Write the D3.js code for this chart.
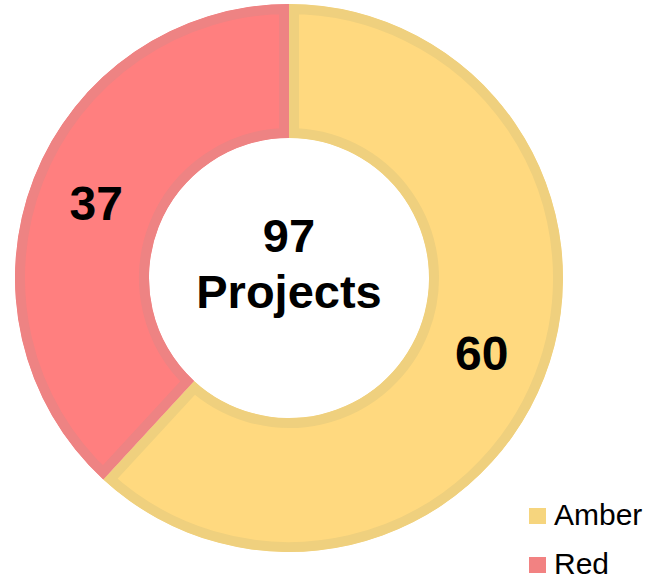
<!DOCTYPE html>
<html>
<head>
<meta charset="utf-8">
<script src="https://cdn.jsdelivr.net/npm/d3@7/dist/d3.min.js"></script>
<style>
  body { margin: 0; background: #fff; }
  text { font-family: "Liberation Sans", Arial, sans-serif; }
</style>
</head>
<body>
<div id="chart"></div>
<script>
const categories = ["Amber", "Red"];
const values = [60, 37];
const fills = ["#FFD97F", "#FF7F7F"];
const strokes = ["#EFD07E", "#EE8383"];
const centerLines = ["97", "Projects"];

const width = 646, height = 580;
const cx = 289, cy = 278;
const outerR = 274, innerR = 140;

const svg = d3.select("#chart").append("svg")
    .attr("width", width)
    .attr("height", height);

const pie = d3.pie().sort(null).value(d => d.value);
const arc = d3.arc().innerRadius(innerR).outerRadius(outerR);

const data = categories.map((c, i) => ({ name: c, value: values[i], i: i }));
const arcs = pie(data);

const g = svg.append("g").attr("transform", `translate(${cx},${cy})`);

const defs = svg.append("defs");
arcs.forEach((d, i) => {
    defs.append("clipPath").attr("id", "clip" + i)
        .append("path").attr("d", arc(d));
});

g.selectAll("path.slice")
    .data(arcs)
    .enter().append("path")
    .attr("class", "slice")
    .attr("d", arc)
    .attr("fill", d => fills[d.data.i])
    .attr("stroke", d => strokes[d.data.i])
    .attr("stroke-width", 20)
    .attr("clip-path", (d, i) => `url(#clip${i})`);

g.selectAll("text.val")
    .data(arcs)
    .enter().append("text")
    .attr("class", "val")
    .attr("x", d => arc.centroid(d)[0])
    .attr("y", d => arc.centroid(d)[1] + 17)
    .attr("text-anchor", "middle")
    .attr("font-size", 48)
    .attr("font-weight", "bold")
    .text(d => d.data.value);

g.selectAll("text.center")
    .data(centerLines)
    .enter().append("text")
    .attr("class", "center")
    .attr("x", 0)
    .attr("y", (d, i) => -26 + i * 56)
    .attr("text-anchor", "middle")
    .attr("font-size", 47)
    .attr("font-weight", "bold")
    .text(d => d);

const legend = svg.append("g").attr("transform", "translate(529,508)");
const item = legend.selectAll("g")
    .data(categories)
    .enter().append("g")
    .attr("transform", (d, i) => `translate(0,${i * 49})`);
item.append("rect")
    .attr("width", 17).attr("height", 16)
    .attr("fill", (d, i) => fills[i] === "#FFD97F" ? "#F6D57E" : "#F28282");
item.append("text")
    .attr("x", 25).attr("y", 17)
    .attr("font-size", 30)
    .text(d => d);
</script>
</body>
</html>
